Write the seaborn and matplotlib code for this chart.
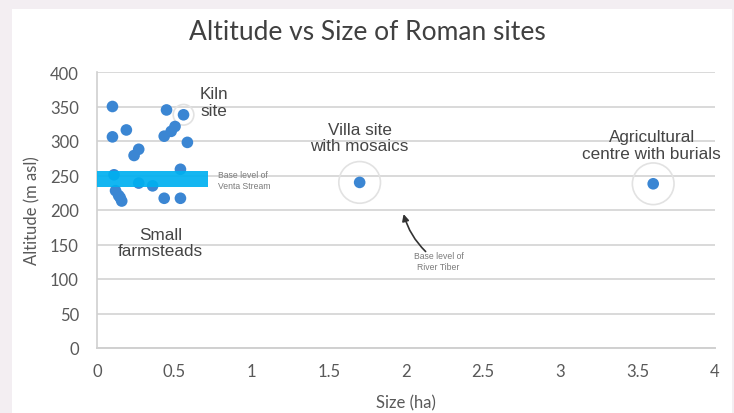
import matplotlib
matplotlib.use("Agg")
import matplotlib.pyplot as plt
import matplotlib.patches as patches
import pandas as pd
import seaborn as sns

# site sizes (ha) and altitudes (m asl)
size_ha = [0.10, 0.45, 0.56, 0.19, 0.10, 0.505, 0.48, 0.435, 0.585, 0.27, 0.24,
           0.11, 0.54, 0.27, 0.36, 0.12, 0.14, 0.16, 0.15, 0.435, 0.54,
           1.70, 3.60]
altitude = [350, 345, 338, 316, 306, 321, 314, 307, 298, 288, 279,
            251, 259, 239, 235, 228, 221, 213, 218, 217, 217,
            240, 238]

highlight_small = [(0.56, 338)]
highlight_large = [(1.70, 240), (3.60, 238)]

x_ticks = [0, 0.5, 1, 1.5, 2, 2.5, 3, 3.5, 4]
x_tick_labels = ["0", "0.5", "1", "1.5", "2", "2.5", "3", "3.5", "4"]
y_ticks = [0, 50, 100, 150, 200, 250, 300, 350, 400]

venta_band = (0.0, 0.72, 233, 257)  # x0, x1, y0, y1

df = pd.DataFrame({"size": size_ha, "alt": altitude})

sns.set_theme(style="white")
plt.rcParams["font.family"] = ["Lato", "DejaVu Sans"]

fig = plt.figure(figsize=(7.34, 4.14), dpi=100, facecolor="#f3eef2")
fig.patches.append(patches.Rectangle((12 / 734, 0), 720 / 734, 1 - 10 / 414,
                                     transform=fig.transFigure, facecolor="white",
                                     edgecolor="none", zorder=-10))
ax = fig.add_axes([97 / 734, 1 - 349 / 414, 618 / 734, 276 / 414])
ax.set_facecolor("none")

sns.scatterplot(data=df, x="size", y="alt", ax=ax, color="#3b86d3", s=70,
                edgecolor="none", zorder=3, legend=False)

# highlight rings
ax.scatter([p[0] for p in highlight_small], [p[1] for p in highlight_small], s=220,
           facecolor="none", edgecolor="#e2e2e2", linewidth=1.2, zorder=2)
ax.scatter([p[0] for p in highlight_large], [p[1] for p in highlight_large], s=900,
           facecolor="none", edgecolor="#e2e2e2", linewidth=1.2, zorder=2)

# Venta stream base level band
x0, x1, y0, y1 = venta_band
ax.add_patch(patches.Rectangle((x0, y0), x1 - x0, y1 - y0, facecolor="#00b0f0",
                               edgecolor="none", alpha=0.92, zorder=4))

ax.set_xlim(0, 4)
ax.set_ylim(0, 400)
ax.set_xticks(x_ticks)
ax.set_xticklabels(x_tick_labels)
ax.set_yticks(y_ticks)
ax.grid(axis="y", color="#d9d9d9", linewidth=1.4, zorder=1)
ax.grid(axis="x", visible=False)
for side in ["top", "right"]:
    ax.spines[side].set_visible(False)
ax.spines["left"].set_color("#d0d0d0")
ax.spines["bottom"].set_color("#d0d0d0")
ax.spines["left"].set_linewidth(1.2)
ax.spines["bottom"].set_linewidth(1.4)
ax.tick_params(axis="both", labelsize=12, colors="#595959", length=0)
ax.tick_params(axis="x", pad=11)
ax.tick_params(axis="y", pad=13)

ax.set_xlabel("Size (ha)", fontsize=12, color="#595959", labelpad=11)
ax.set_ylabel("Altitude (m asl)", fontsize=12, color="#595959", labelpad=7)
fig.text(0.5, 1 - 33 / 414, "Altitude vs Size of Roman sites", ha="center",
         va="center", fontsize=19, color="#404040")

ann = dict(family=["Liberation Sans", "DejaVu Sans"], color="#454545",
           ha="center", va="center", fontsize=12.3, linespacing=1.15)
ax.text(0.76, 356, "Kiln\nsite", **ann)
ax.text(0.41, 153, "Small\nfarmsteads", **ann)
ax.text(1.70, 305, "Villa site\nwith mosaics", **ann)
ax.text(3.59, 294, "Agricultural\ncentre with burials", **ann)

small = dict(family=["Liberation Sans", "DejaVu Sans"], color="#7a7a7a",
             ha="left", va="center", fontsize=6.2, linespacing=1.3)
ax.text(0.78, 243, "Base level of\nVenta Stream", **small)
small["ha"] = "center"
ax.text(2.21, 126, "Base level of\nRiver Tiber", **small)

ax.annotate("", xy=(1.98, 198), xytext=(2.14, 137),
            arrowprops=dict(arrowstyle="-|>", color="#333333", lw=1.2,
                            mutation_scale=10,
                            connectionstyle="arc3,rad=-0.15"))

fig.savefig("out.png", dpi=100, facecolor=fig.get_facecolor())
